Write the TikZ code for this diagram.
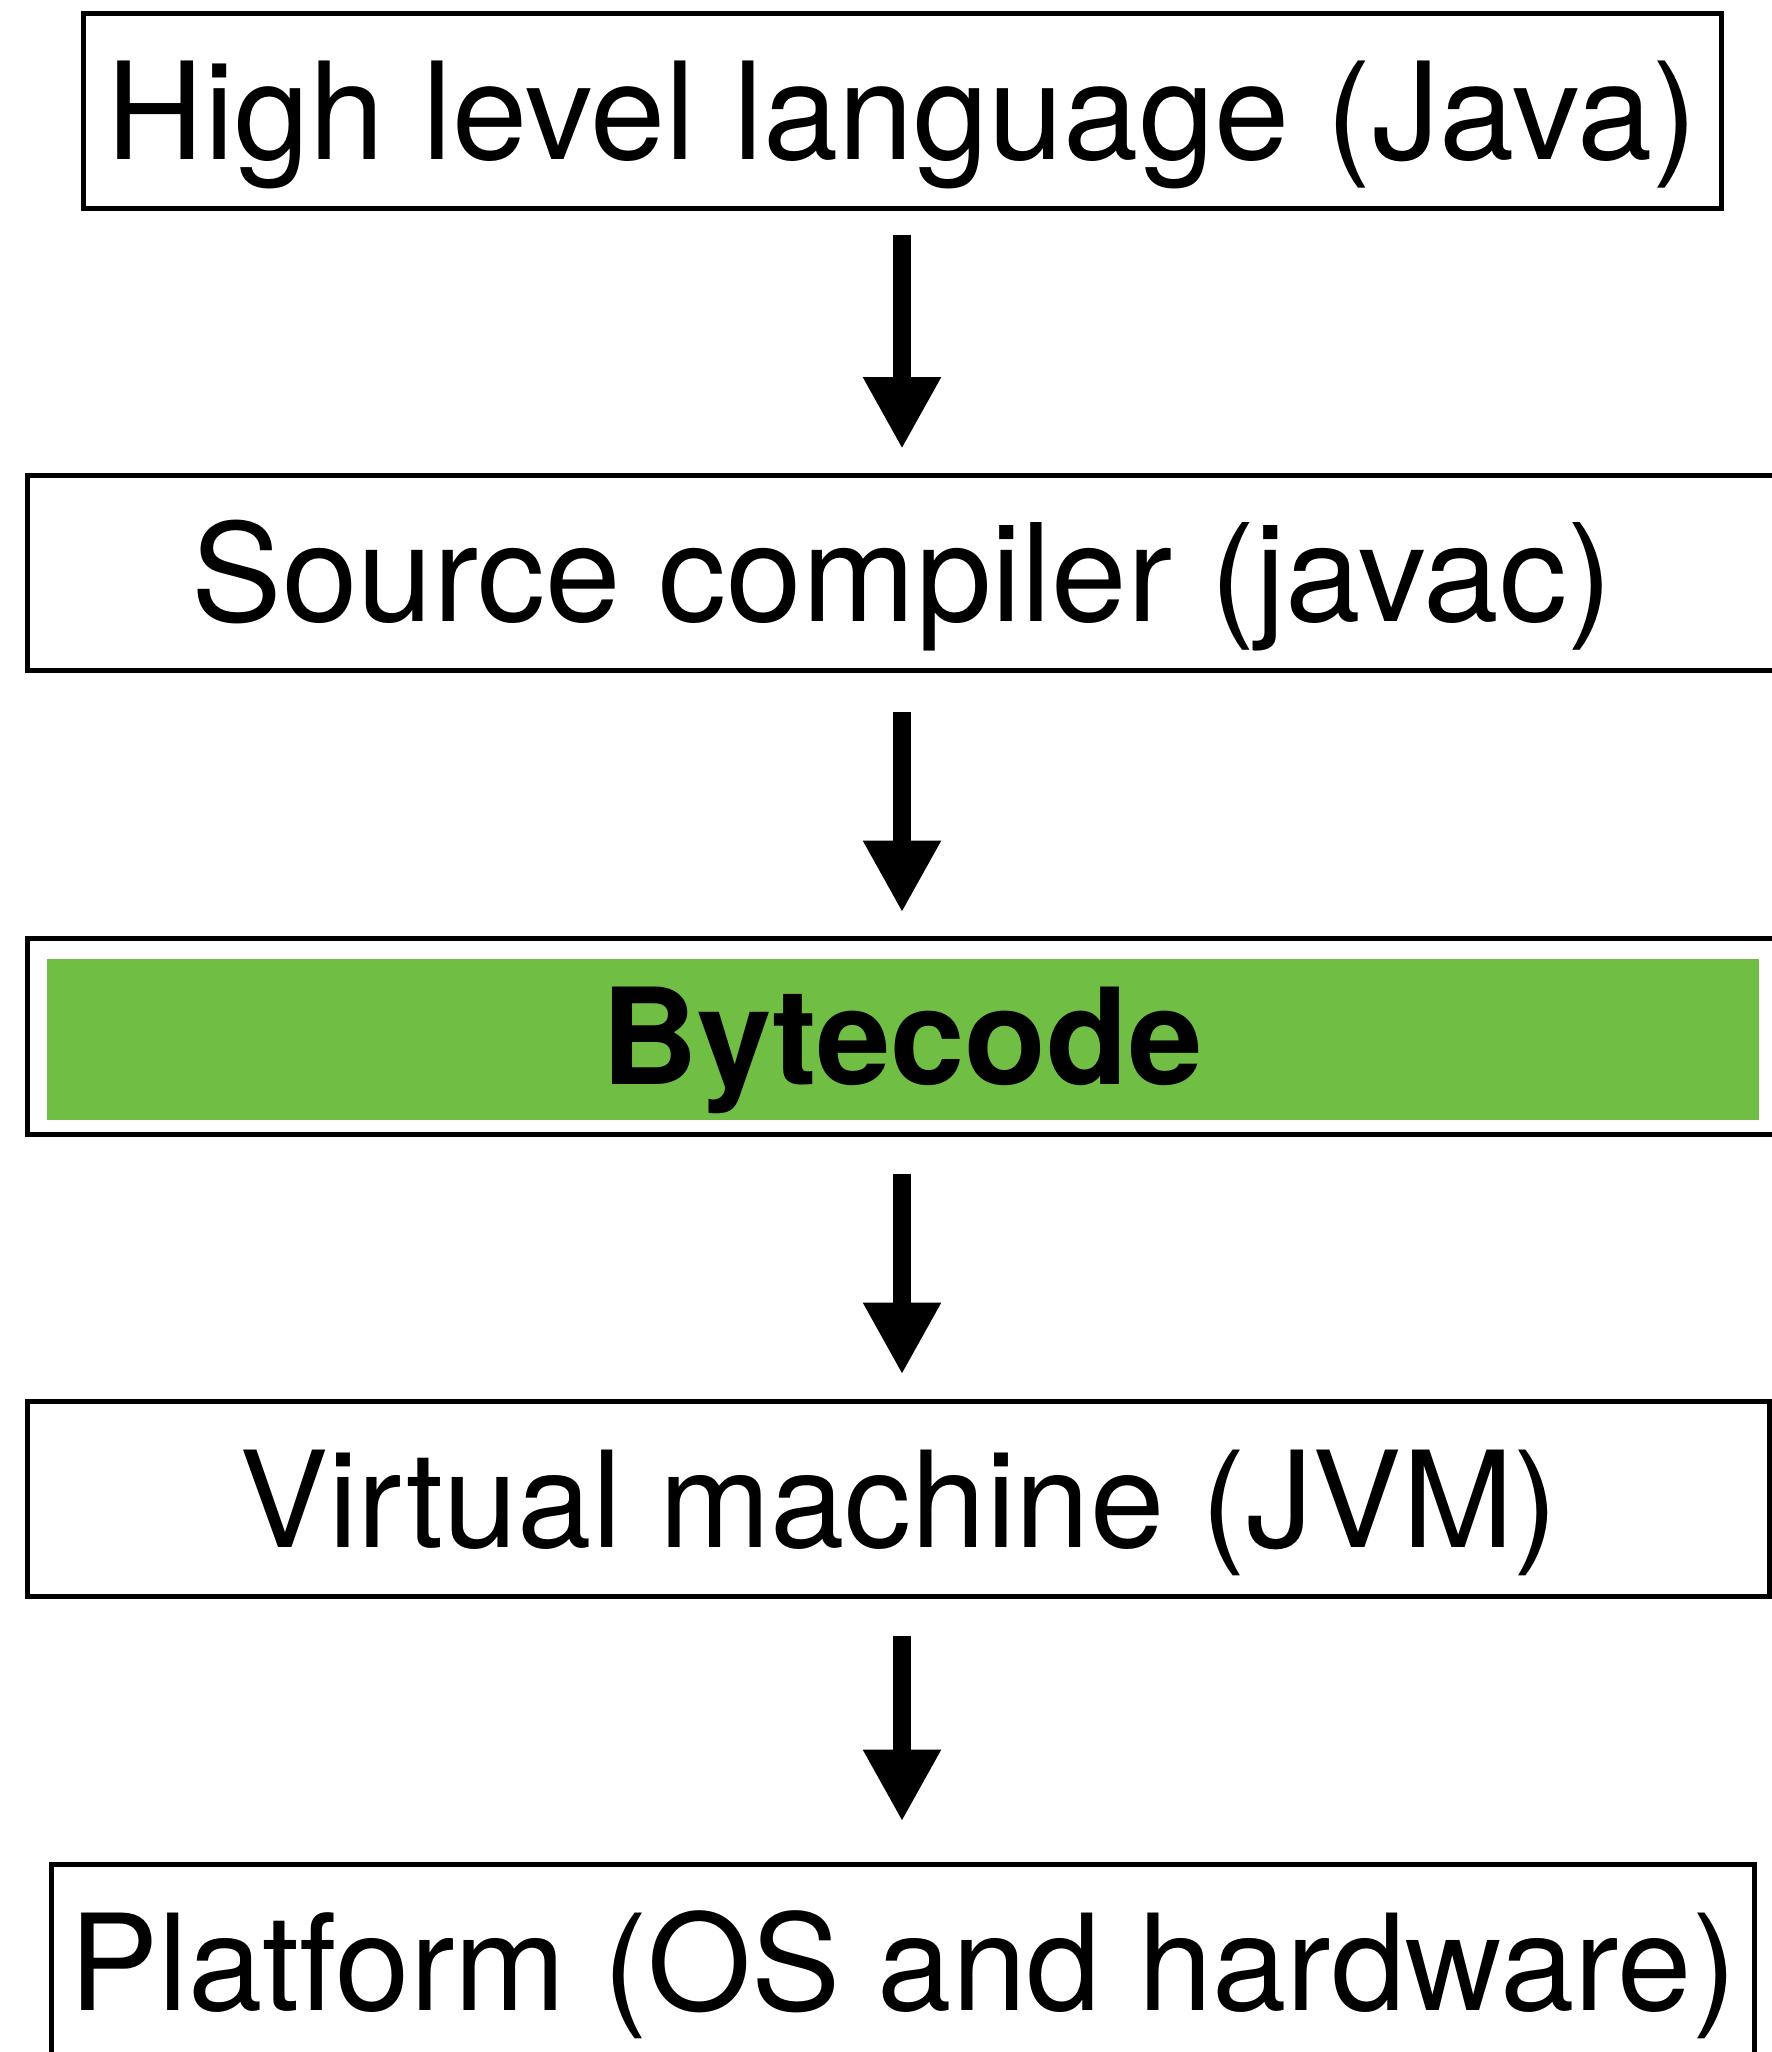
\documentclass[tikz,border=0pt]{standalone}
\usepackage{fontspec}
\setmainfont{TeX Gyre Heros}
\usetikzlibrary{arrows.meta,calc}
\definecolor{bcgreen}{RGB}{113,190,68}
\begin{document}
\begin{tikzpicture}[x=0.5pt,y=-0.5pt,
  box/.style={draw=black,line width=2.5pt,rectangle,inner sep=0pt,
    minimum height=97.5pt,text height=48pt,text depth=0pt,
    font=\fontsize{66.85}{80}\selectfont},
  greenbar/.style={fill=bcgreen,draw=none,rectangle,inner sep=0pt},
  flow/.style={line width=9pt,-{Triangle[length=36pt,width=36.5pt]}}]
\useasboundingbox (0,0) rectangle (1772,2052);
\clip (0,0) rectangle (1772,2052);
\coordinate (axis) at (902,0);
\node[box,minimum width=819pt,font=\fontsize{67.6}{80}\selectfont] (hll) at (902,111) {High level language (Java)};
\node[box,minimum width=874.5pt,font=\fontsize{67.9}{80}\selectfont] (src) at (902,573) {Source compiler (javac)};
\node[greenbar,minimum width=856pt,minimum height=80.5pt] (green) at (903,1039.5) {};
\node[box,minimum width=875pt,minimum height=97.75pt,font=\fontsize{66.85}{80}\selectfont\bfseries] (bc) at (902,1036.25) {Bytecode};
\node[box,minimum width=871pt] (jvm) at (898.5,1499) {Virtual machine (JVM)};
\node[box,minimum width=851.5pt] (plat) at (903,1962) {Platform (OS and hardware)};
\draw[flow] ($(hll.south -| axis)+(0,23.5)$) -- ($(src.north -| axis)+(0,-24)$);
\draw[flow] ($(src.south -| axis)+(0,38.5)$) -- ($(bc.north -| axis)+(0,-23.5)$);
\draw[flow] ($(bc.south -| axis)+(0,37)$) -- ($(jvm.north -| axis)+(0,-24.5)$);
\draw[flow] ($(jvm.south -| axis)+(0,36.5)$) -- ($(plat.north -| axis)+(0,-40.5)$);
\end{tikzpicture}
\end{document}
